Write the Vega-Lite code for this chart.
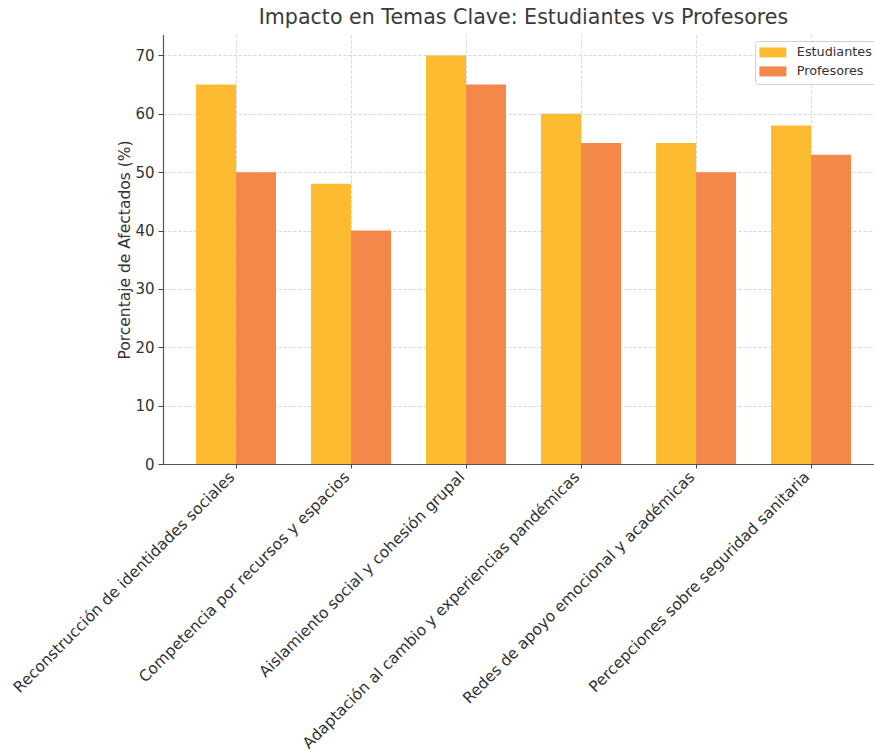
{
  "$schema": "https://vega.github.io/schema/vega-lite/v6.json",
  "width": 711,
  "height": 429,
  "autosize": {"type": "none"},
  "padding": {"left": 163, "top": 35, "right": 0, "bottom": 287},
  "background": "white",
  "title": {
    "text": "Impacto en Temas Clave: Estudiantes vs Profesores",
    "font": "DejaVu Sans",
    "fontSize": 20.6,
    "fontWeight": "normal",
    "color": "#3a3a3a",
    "anchor": "middle",
    "frame": "group",
    "offset": 6,
    "dx": 5
  },
  "data": {
    "values": [
      {"tema": "Reconstrucción de identidades sociales", "grupo": "Estudiantes", "pct": 65},
      {"tema": "Reconstrucción de identidades sociales", "grupo": "Profesores", "pct": 50},
      {"tema": "Competencia por recursos y espacios", "grupo": "Estudiantes", "pct": 48},
      {"tema": "Competencia por recursos y espacios", "grupo": "Profesores", "pct": 40},
      {"tema": "Aislamiento social y cohesión grupal", "grupo": "Estudiantes", "pct": 70},
      {"tema": "Aislamiento social y cohesión grupal", "grupo": "Profesores", "pct": 65},
      {"tema": "Adaptación al cambio y experiencias pandémicas", "grupo": "Estudiantes", "pct": 60},
      {"tema": "Adaptación al cambio y experiencias pandémicas", "grupo": "Profesores", "pct": 55},
      {"tema": "Redes de apoyo emocional y académicas", "grupo": "Estudiantes", "pct": 55},
      {"tema": "Redes de apoyo emocional y académicas", "grupo": "Profesores", "pct": 50},
      {"tema": "Percepciones sobre seguridad sanitaria", "grupo": "Estudiantes", "pct": 58},
      {"tema": "Percepciones sobre seguridad sanitaria", "grupo": "Profesores", "pct": 53}
    ]
  },
  "mark": {"type": "bar"},
  "encoding": {
    "x": {
      "field": "tema",
      "type": "nominal",
      "sort": null,
      "scale": {"paddingInner": 0.3043, "paddingOuter": 0.2435, "align": 0.59},
      "axis": {
        "title": null,
        "labelAngle": -45,
        "labelAlign": "right",
        "labelBaseline": "top",
        "labelFont": "DejaVu Sans",
        "labelFontSize": 15.5,
        "labelColor": "#333333",
        "labelPadding": 1,
        "labelOffset": -9,
        "labelLimit": 600,
        "tickColor": "#444444",
        "tickSize": 4,
        "domainColor": "#555555",
        "domainWidth": 1.2,
        "grid": true,
        "gridColor": "#cccccc",
        "gridDash": [3, 2],
        "gridWidth": 0.8
      }
    },
    "xOffset": {
      "field": "grupo",
      "type": "nominal",
      "scale": {"domain": ["Estudiantes", "Profesores"], "paddingInner": 0, "paddingOuter": 0}
    },
    "y": {
      "field": "pct",
      "type": "quantitative",
      "scale": {"domain": [0, 73.5], "nice": false},
      "axis": {
        "title": "Porcentaje de Afectados (%)",
        "titleFont": "DejaVu Sans",
        "titleFontSize": 15.5,
        "titleFontWeight": "normal",
        "titleColor": "#333333",
        "titlePadding": 2,
        "values": [0, 10, 20, 30, 40, 50, 60, 70],
        "labelFont": "DejaVu Sans",
        "labelFontSize": 15,
        "labelColor": "#333333",
        "labelPadding": 4,
        "tickColor": "#444444",
        "tickSize": 5,
        "domainColor": "#555555",
        "domainWidth": 1.2,
        "grid": true,
        "gridColor": "#cccccc",
        "gridDash": [3, 2],
        "gridWidth": 0.8
      }
    },
    "color": {
      "field": "grupo",
      "type": "nominal",
      "scale": {"domain": ["Estudiantes", "Profesores"], "range": ["#FCBB30", "#F4884B"]},
      "legend": {
        "title": null,
        "orient": "none",
        "legendX": 592,
        "legendY": 6,
        "direction": "vertical",
        "fillColor": "white",
        "strokeColor": "#d0d0d0",
        "cornerRadius": 3,
        "padding": 5,
        "rowPadding": 5,
        "labelFont": "DejaVu Sans",
        "labelFontSize": 12.8,
        "labelColor": "#333333",
        "labelOffset": 17.5,
        "symbolType": "M-2.7,-1H2.7V1H-2.7Z",
        "symbolSize": 100,
        "symbolOffset": 6.5,
        "symbolStrokeWidth": 0,
        "symbolOpacity": 1
      }
    }
  },
  "config": {
    "view": {"stroke": null},
    "axis": {"domainCap": "square"}
  }
}
